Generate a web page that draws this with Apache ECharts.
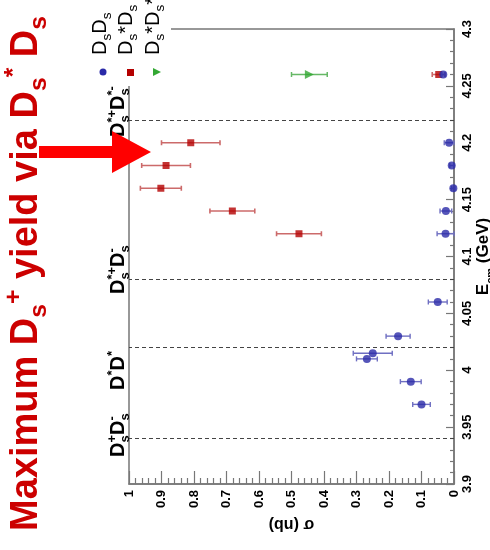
<!DOCTYPE html>
<html>
<head>
<meta charset="utf-8">
<script src="https://cdn.jsdelivr.net/npm/echarts@6.0.0/dist/echarts.min.js"></script>
<style>html,body{margin:0;padding:0;background:#fff}#c{width:490px;height:550px}</style>
</head>
<body>
<div id="c"></div>
<script>
// ---------------- data ----------------
const ecmDsDs   = [3.970, 3.990, 4.010, 4.015, 4.030, 4.060, 4.120, 4.140, 4.160, 4.180, 4.200, 4.260];
const sigDsDs   = [0.100, 0.133, 0.268, 0.250, 0.172, 0.050, 0.026, 0.025, 0.002, 0.007, 0.015, 0.033];
const errDsDs   = [0.027, 0.032, 0.032, 0.060, 0.037, 0.029, 0.026, 0.018, 0.005, 0.006, 0.015, 0.005];

const ecmDsstDs = [4.120, 4.140, 4.160, 4.180, 4.200, 4.260];
const sigDsstDs = [0.477, 0.682, 0.902, 0.886, 0.810, 0.047];
const errDsstDs = [0.069, 0.069, 0.063, 0.075, 0.090, 0.020];

const ecmDsstDsst = [4.260];
const sigDsstDsst = [0.445];
const errDsstDsst = [0.055];

const thresholdEcm = [3.937, 4.017, 4.080, 4.224];

const sigmaTickLabels = ['0', '0.1', '0.2', '0.3', '0.4', '0.5', '0.6', '0.7', '0.8', '0.9', '1'];
const ecmTickLabels = ['3.9', '3.95', '4', '4.05', '4.1', '4.15', '4.2', '4.25', '4.3'];

// ---------------- helpers ----------------
const FAMILY = '"Liberation Sans", Arial, Helvetica, sans-serif';
const mctx = document.createElement('canvas').getContext('2d');
function measure(t, size, weight) {
  mctx.font = weight + ' ' + size + 'px ' + FAMILY;
  return mctx.measureText(t).width;
}
function lookup(labels, v) {
  for (const l of labels) if (Math.abs(parseFloat(l) - v) < 1e-6) return l;
  return '';
}
// rotated (reading bottom-to-top) text with sub/superscripts
// parts: [kind, text]; kind: 'm' main, 'b' subscript, 'p' superscript
function rotLabel(baseX, startY, parts, F, weight, color, stacked, ratio) {
  const S = F * (ratio || 0.65);
  const children = [];
  const tok = (lx, base, t, size) => ({
    type: 'text', x: lx, y: base - 0.31 * size, z: 100,
    style: { text: t, fontSize: size, fontWeight: weight, fontFamily: FAMILY,
             fill: color, align: 'left', verticalAlign: 'middle' }
  });
  let x = 0, i = 0;
  while (i < parts.length) {
    const k = parts[i][0], t = parts[i][1];
    if (k === 'm') {
      children.push(tok(x, 0, t, F));
      x += measure(t, F, weight);
      i++;
    } else if (!stacked) {
      const base = k === 'b' ? 0.22 * F : -0.42 * F;
      children.push(tok(x, base, t, S));
      x += measure(t, S, weight);
      i++;
    } else {
      let w = 0;
      const x0 = x;
      while (i < parts.length && parts[i][0] !== 'm') {
        const kk = parts[i][0], tt = parts[i][1];
        const base = kk === 'b' ? 0.22 * F : -0.42 * F;
        children.push(tok(x0, base, tt, S));
        w = Math.max(w, measure(tt, S, weight));
        i++;
      }
      x += w;
    }
  }
  return { type: 'group', x: baseX, y: startY, rotation: Math.PI / 2, z: 100, children };
}

function errBars(E, S, Err, color, width, z) {
  return {
    type: 'custom', silent: true, clip: false, z: z,
    data: E.map((e, i) => [S[i], e, Err[i]]),
    encode: { x: 0, y: 1 },
    renderItem: function (params, api) {
      const s = api.value(0), e = api.value(1), d = api.value(2);
      const a = api.coord([s - d, e]), b = api.coord([s + d, e]);
      const c = 2.5;
      const st = { stroke: color, lineWidth: width };
      return { type: 'group', children: [
        { type: 'line', shape: { x1: a[0], y1: a[1], x2: b[0], y2: b[1] }, style: st },
        { type: 'line', shape: { x1: a[0], y1: a[1] - c, x2: a[0], y2: a[1] + c }, style: st },
        { type: 'line', shape: { x1: b[0], y1: b[1] - c, x2: b[0], y2: b[1] + c }, style: st }
      ]};
    }
  };
}

const BLUE = '#2a2aa8', RED = '#b40000', GREEN = '#33a833';
const AX = '#777';

// ---------------- graphics (annotations) ----------------
const graphics = [
  // legend white box covering frame corner
  { type: 'rect', z: 90, shape: { x: 84, y: 0, width: 87, height: 86 }, style: { fill: '#fff' } },
  rotLabel(107, 55, [['m', 'D'], ['b', 's'], ['m', 'D'], ['b', 's']], 20, 'normal', '#000', false, 0.68),
  rotLabel(133, 55, [['m', 'D'], ['b', 's'], ['m', '*D'], ['b', 's']], 20, 'normal', '#000', false, 0.68),
  rotLabel(160, 55, [['m', 'D'], ['b', 's'], ['m', '*D'], ['b', 's'], ['m', '*']], 20, 'normal', '#000', false, 0.68),
  { type: 'circle', z: 100, shape: { cx: 103, cy: 72, r: 3.5 }, style: { fill: BLUE } },
  { type: 'rect', z: 100, shape: { x: 127, y: 69, width: 7, height: 7 }, style: { fill: RED } },
  { type: 'polygon', z: 100, shape: { points: [[153, 68], [161, 72], [153, 76]] }, style: { fill: GREEN } },
  // threshold labels
  rotLabel(125, 457, [['m', 'D'], ['b', 's'], ['p', '+'], ['m', 'D'], ['b', 's'], ['p', '-']], 20, 'bold', '#000', true),
  rotLabel(125, 390, [['m', 'D'], ['p', '*'], ['m', 'D'], ['p', '*']], 20, 'bold', '#000', true),
  rotLabel(125, 294, [['m', 'D'], ['b', 's'], ['p', '*+'], ['m', 'D'], ['b', 's'], ['p', '-']], 20, 'bold', '#000', true),
  rotLabel(125, 137, [['m', 'D'], ['b', 's'], ['p', '*+'], ['m', 'D'], ['b', 's'], ['p', '*-']], 20, 'bold', '#000', true),
  // red title
  rotLabel(38, 531, [['m', 'Maximum D'], ['b', 's'], ['p', '+'], ['m', ' yield via D'], ['b', 's'], ['p', '*'], ['m', ' D'], ['b', 's']], 38, 'bold', '#cc0000', false),
  // arrow
  { type: 'polygon', z: 100, shape: { points: [[39, 146], [112, 146], [112, 131], [151, 152], [112, 173], [112, 158], [39, 158]] }, style: { fill: '#ff0000' } }
];

// ---------------- chart ----------------
const chart = echarts.init(document.getElementById('c'), null, { renderer: 'canvas' });
const labelStyle = { fontSize: 13, fontWeight: 'bold', fontFamily: FAMILY, color: '#000' };
chart.setOption({
  animation: false,
  backgroundColor: '#fff',
  grid: { left: 129, right: 36, top: 29, bottom: 66, containLabel: false, outerBoundsMode: 'none',
          show: true, borderColor: AX, borderWidth: 1.5, backgroundColor: 'transparent' },
  xAxis: {
    type: 'value', min: 0, max: 1, interval: 0.1, inverse: true, position: 'bottom',
    axisLine: { show: true, lineStyle: { color: AX, width: 1.5 } },
    axisTick: { show: true, inside: true, length: 13, lineStyle: { color: AX, width: 1.2 } },
    minorTick: { show: true, splitNumber: 5, length: 6, lineStyle: { color: AX, width: 1.2 } },
    splitLine: { show: false }, minorSplitLine: { show: false },
    axisLabel: Object.assign({ rotate: 90, margin: 6, showMinLabel: true, showMaxLabel: true, interval: 0,
      formatter: v => lookup(sigmaTickLabels, v) }, labelStyle),
    name: 'σ (nb)', nameLocation: 'middle', nameRotate: 180, nameGap: 32, nameMoveOverlap: false,
    nameTextStyle: { fontSize: 16, fontWeight: 'bold', fontFamily: FAMILY, color: '#000' }
  },
  yAxis: {
    type: 'value', min: 3.9, max: 4.3, interval: 0.05, position: 'right',
    axisLine: { show: true, lineStyle: { color: AX, width: 1.5 } },
    axisTick: { show: true, inside: true, length: 8, lineStyle: { color: AX, width: 1.2 } },
    minorTick: { show: true, splitNumber: 5, length: 4, lineStyle: { color: AX, width: 1.2 } },
    splitLine: { show: false }, minorSplitLine: { show: false },
    axisLabel: Object.assign({ rotate: 90, margin: 7, showMinLabel: true, showMaxLabel: true, interval: 0,
      formatter: v => lookup(ecmTickLabels, v) }, labelStyle),
    name: '{a|E}{s|cm}{a| (GeV)}', nameLocation: 'middle', nameRotate: 90, nameGap: 17, nameMoveOverlap: false,
    nameTextStyle: {
      fontSize: 17, fontWeight: 'bold', fontFamily: FAMILY, color: '#000',
      rich: {
        a: { fontSize: 17, fontWeight: 'bold', fontFamily: FAMILY, color: '#000', lineHeight: 25 },
        s: { fontSize: 11, fontWeight: 'bold', fontFamily: FAMILY, color: '#000', lineHeight: 17, verticalAlign: 'bottom' }
      }
    }
  },
  series: [
    { type: 'scatter', data: [], silent: true,
      markLine: { silent: true, symbol: ['none', 'none'], label: { show: false },
        lineStyle: { type: [4, 3], color: '#444', width: 1 },
        data: thresholdEcm.map(v => ({ yAxis: v })) } },
    errBars(ecmDsstDsst, sigDsstDsst, errDsstDsst, '#66b866', 1.5, 2),
    { type: 'scatter', symbol: 'triangle', symbolSize: 9, symbolRotate: -90, clip: false, z: 3,
      itemStyle: { color: GREEN }, data: ecmDsstDsst.map((e, i) => [sigDsstDsst[i], e]) },
    errBars(ecmDsstDs, sigDsstDs, errDsstDs, '#cc6a6a', 1.6, 2),
    { type: 'scatter', symbol: 'rect', symbolSize: 7, clip: false, z: 3,
      itemStyle: { color: RED }, data: ecmDsstDs.map((e, i) => [sigDsstDs[i], e]) },
    errBars(ecmDsDs, sigDsDs, errDsDs, '#6f6fc2', 1.4, 4),
    { type: 'scatter', symbol: 'circle', symbolSize: 8, clip: false, z: 5,
      itemStyle: { color: BLUE }, data: ecmDsDs.map((e, i) => [sigDsDs[i], e]) }
  ],
  graphic: graphics
});
</script>
</body>
</html>
